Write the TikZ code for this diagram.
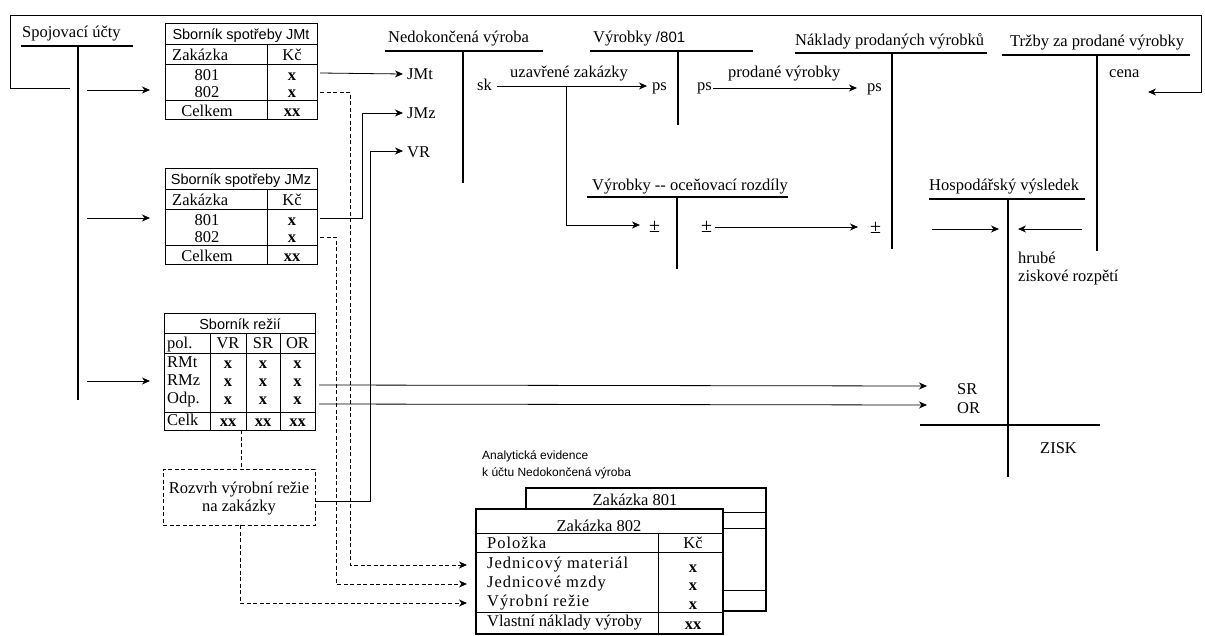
\documentclass[tikz,border=0pt]{standalone}
\usepackage{fontspec}
\setmainfont{Liberation Serif}
\setsansfont{Liberation Sans}
\usetikzlibrary{arrows.meta}

\tikzset{
  txt/.style={inner sep=0pt, font=\fontsize{16.5}{19}\selectfont, anchor=base west},
  ctxt/.style={txt, anchor=base},
  btxt/.style={ctxt, font=\fontsize{16.5}{19}\selectfont\bfseries},
  wtxt/.style={txt, font=\fontsize{16.5}{19}\selectfont\addfontfeature{LetterSpace=6}},
  pmtxt/.style={txt, font=\fontsize{20}{22}\selectfont},
  stxt/.style={inner sep=0pt, font=\sffamily\fontsize{14.5}{17}\selectfont, anchor=base},
  tline/.style={line width=1.8pt},
  tab/.style={line width=0.8pt},
  thk/.style={line width=1.8pt},
  arr/.style={line width=0.8pt, -{Stealth[length=8pt,width=7pt,inset=2.5pt]}},
  darr/.style={arr, dash pattern=on 4pt off 2.5pt},
  dsh/.style={line width=0.8pt, dash pattern=on 4pt off 2.5pt},
}

% consumption register table: name, top edge, title
\newcommand\SbTable[3]{%
  \begin{scope}[shift={(165,#2)}]
    \node[tab, draw, minimum width=152pt, minimum height=96pt, anchor=north west, inner sep=0pt] (#1) at (0,0) {};
    \draw[tab] (0,21) -- (152,21) (0,41) -- (152,41) (0,77) -- (152,77) (102,21) -- (102,96);
    \node[stxt] (#1-title) at (76,16) {#3};
    \node[txt]  (#1-head) at (7,37) {Zakázka};
    \node[ctxt] (#1-kc) at (127,37) {Kč};
    \node[ctxt] (#1-a) at (42,57) {801};
    \node[btxt] (#1-ax) at (127,57) {x};
    \node[ctxt] (#1-b) at (42,74) {802};
    \node[btxt] (#1-bx) at (127,74) {x};
    \node[ctxt] (#1-c) at (42,93) {Celkem};
    \node[btxt] (#1-cx) at (127,93) {xx};
    \coordinate (#1-r1) at (155,50);
    \coordinate (#1-r2) at (155,69);
  \end{scope}}

\begin{document}
\begin{tikzpicture}[x=1pt,y=-1pt]
\useasboundingbox (0,0) rectangle (1205,635);

% ---------- T-accounts ----------
\node[txt] (spoj) at (22,37) {Spojovací účty};
\draw[tline] (21,46) -- (133,46) (78,46) -- (78,400);

\node[txt] (nv) at (388,42) {Nedokončená výroba};
\draw[tline] (385,51) -- (543,51) (463,51) -- (463,183);

\node[txt] (vyr) at (593,42) {Výrobky {\sffamily\fontsize{15}{17}\selectfont /801}};
\draw[tline] (590,51) -- (753,51) (678,51) -- (678,125);

\node[txt] (npv) at (795,45) {Náklady prodaných výrobků};
\draw[tline] (795,53) -- (987,53) (892,53) -- (892,249);

\node[txt] (trz) at (1010,46) {Tržby za prodané výrobky};
\draw[tline] (1002,55) -- (1190,55) (1097,55) -- (1097,251);

\node[txt] (ocr) at (592,190) {Výrobky -{}- oceňovací rozdíly};
\draw[tline] (587,197) -- (788,197) (677,197) -- (677,269);

\node[txt] (hv) at (929,190) {Hospodářský výsledek};
\draw[tline] (929,199) -- (1085,199) (1008,199) -- (1008,477);
\draw[tline] (920,425) -- (1100,425);

% ---------- entries on the accounts ----------
\node[txt] (jmt) at (407,79) {JMt};
\node[txt] (jmz) at (407,118) {JMz};
\node[txt] (vr) at (407,157) {VR};
\node[txt] (sk) at (477,90) {sk};
\node[txt] (uz) at (510,77) {uzavřené zakázky};
\node[txt] (ps1) at (652,90) {ps};
\node[txt] (ps2) at (697,90) {ps};
\node[txt] (prod) at (728,77) {prodané výrobky};
\node[txt] (ps3) at (867,91) {ps};
\node[txt] (cena) at (1109,77) {cena};
\node[pmtxt] (pm1) at (649,232) {±};
\node[pmtxt] (pm2) at (701,232) {±};
\node[pmtxt] (pm3) at (870,233) {±};
\node[txt] (hrube) at (1018,263) {hrubé};
\node[txt] (zr) at (1018,281) {ziskové rozpětí};
\node[txt] (sr) at (957,394) {SR};
\node[txt] (or) at (957,413) {OR};
\node[txt] (zisk) at (1040,453) {ZISK};

% ---------- registers ----------
\SbTable{tmt}{23}{Sborník spotřeby JMt}
\SbTable{tmz}{168}{Sborník spotřeby JMz}

% overhead register
\node[tab, draw, minimum width=151pt, minimum height=117pt, anchor=north west, inner sep=0pt] (rez) at (164,313) {};
\draw[tab] (164,333) -- (315,333) (164,353) -- (315,353) (164,412) -- (315,412)
  (210,333) -- (210,430) (246,333) -- (246,430) (280,333) -- (280,430);
\node[stxt] (rez-title) at (240,329) {Sborník režií};
\node[txt] (rez-pol) at (167,348) {pol.};
\node[ctxt] (rez-vr) at (228,348) {VR};
\node[ctxt] (rez-sr) at (263,348) {SR};
\node[ctxt] (rez-or) at (297.5,348) {OR};
\node[txt] (rez-1) at (167,367) {RMt};
\node[txt] (rez-2) at (167,385) {RMz};
\node[txt] (rez-3) at (167,403) {Odp.};
\node[txt] (rez-4) at (167,425) {Celk};
\foreach \c/\xx in {a/228,b/263,c/297.5}{
  \node[btxt] (rez-1\c) at (\xx,368) {x};
  \node[btxt] (rez-2\c) at (\xx,386) {x};
  \node[btxt] (rez-3\c) at (\xx,404) {x};
  \node[btxt] (rez-4\c) at (\xx,426) {xx};
}
\coordinate (rez-r2) at (319,385);
\coordinate (rez-r3) at (319,404);
\coordinate (rez-vrb) at (241,430);

% allocation of production overhead
\node[dsh, draw, minimum width=152pt, minimum height=56pt, anchor=north west, inner sep=0pt] (rozv) at (163,469) {};
\node[ctxt] (rozv-1) at (239,493) {Rozvrh výrobní režie};
\node[ctxt] (rozv-2) at (239,511) {na zakázky};

% ---------- analytical records ----------
\node[inner sep=0pt, anchor=base west, font=\sffamily\fontsize{12}{14}\selectfont] (an1) at (482,459) {Analytická evidence};
\node[inner sep=0pt, anchor=base west, font=\sffamily\fontsize{12}{14}\selectfont] (an2) at (482,476) {k účtu Nedokončená výroba};

\node[thk, draw, fill=white, minimum width=240pt, minimum height=123pt, anchor=north west, inner sep=0pt] (z801) at (525,487) {};
\draw[tab] (525,512) -- (765,512) (525,528) -- (765,528) (525,590) -- (765,590);
\node[ctxt] (z801-t) at (635,505) {Zakázka 801};

\node[thk, draw, fill=white, minimum width=247pt, minimum height=125pt, anchor=north west, inner sep=0pt] (z802) at (475,508) {};
\draw[tab] (475,533) -- (722,533) (475,552) -- (722,552) (475,612) -- (722,612) (658,533) -- (658,633);
\node[ctxt] (z802-t) at (599,531) {Zakázka 802};
\node[wtxt] (z-pol) at (487,548) {Položka};
\node[ctxt] (z-kc) at (693,548) {Kč};
\node[wtxt] (z-jm) at (487,568) {Jednicový materiál};
\node[wtxt] (z-jz) at (487,587) {Jednicové mzdy};
\node[wtxt] (z-vr) at (487,606) {Výrobní režie};
\node[txt] (z-vn) at (487,626) {Vlastní náklady výroby};
\node[btxt] (z-x1) at (693,572) {x};
\node[btxt] (z-x2) at (693,590) {x};
\node[btxt] (z-x3) at (693,609) {x};
\node[btxt] (z-x4) at (693,629) {xx};
\coordinate (z-in1) at (467,565);
\coordinate (z-in2) at (467,584);
\coordinate (z-in3) at (467,603);

% ---------- connectors ----------
% frame from the clearing accounts round to sales
\coordinate (fr0) at (70,88);
\coordinate (fr1) at (1148,92);
\draw[arr] (fr0) -- (10,88) -- (10,15) -- (1201,15) -- (1201,92) -- (fr1);

% clearing accounts into the registers
\foreach \yy/\n in {90/1,218/2,381/3}{
  \coordinate (sp\n a) at (87,\yy);
  \coordinate (sp\n b) at (150,\yy);
  \draw[arr] (sp\n a) -- (sp\n b);
}

% registers into work in progress
\coordinate (jmt-in) at (403,74);
\coordinate (jmz-in) at (403,113);
\coordinate (vr-in) at (403,151);
\draw[arr] (tmt-r1) -- (jmt-in);
\draw[arr] (tmz-r1) -| (362,113) -- (jmz-in);
\draw[arr] (rozv.east |- 0,501) -- (370,501) -- (370,151) -- (vr-in);

% dashed flows to the job cards
\draw[darr] (tmt-r2) -- (350,92) -- (350,565) -- (z-in1);
\draw[darr] (tmz-r2) -- (336,237) -- (336,584) -- (z-in2);
\draw[dsh] (rez-vrb) -- (rozv.north -| rez-vrb);
\draw[darr] (240,525) -- (240,603) -- (z-in3);

% closed jobs and sold products
\coordinate (uz0) at (497,86);
\coordinate (uz1) at (647,86);
\draw[arr] (uz0) -- (uz1);
\coordinate (br0) at (566,86);
\coordinate (br1) at (640,225);
\draw[arr] (br0) -- (566,225) -- (br1);
\coordinate (pr0) at (713,88);
\coordinate (pr1) at (857,88);
\draw[arr] (pr0) -- (pr1);
\coordinate (oc0) at (715,227);
\coordinate (oc1) at (858,227);
\draw[arr] (oc0) -- (oc1);

% into the profit and loss account
\coordinate (hv0) at (932,229);
\coordinate (hv1) at (999,229);
\draw[arr] (hv0) -- (hv1);
\coordinate (hv2) at (1082,229);
\coordinate (hv3) at (1018,229);
\draw[arr] (hv2) -- (hv3);
\coordinate (sr-in) at (927,386);
\coordinate (or-in) at (927,405);
\draw[arr] (rez-r2) -- (sr-in);
\draw[arr] (rez-r3) -- (or-in);

\end{tikzpicture}
\end{document}
